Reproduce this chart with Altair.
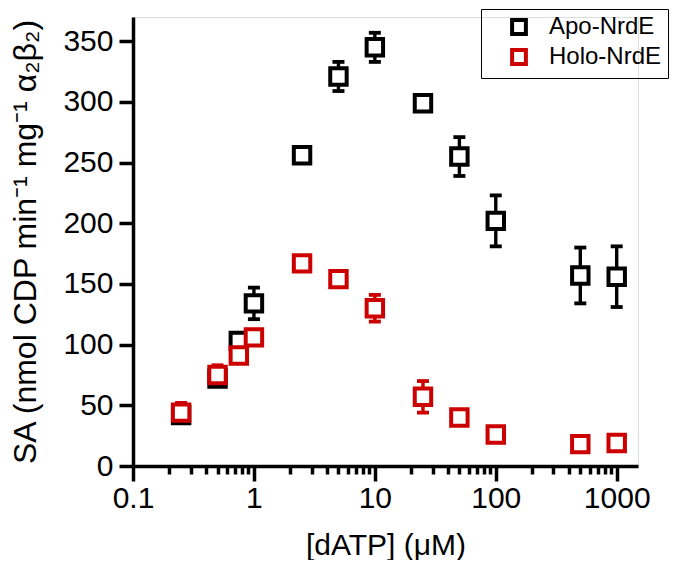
import altair as alt
import pandas as pd

# ---- data ----
conc = [0.25, 0.5, 0.75, 1, 2.5, 5, 10, 25, 50, 100, 500, 1000]
apo_sa = [42, 72, 103, 134, 256, 321, 345, 299, 255, 202, 157, 156]
apo_err = [3, 4, 2, 13, 3, 12, 12, 3, 16, 21, 23, 25]
holo_sa = [44, 75, 91, 106, 167, 154, 130, 57, 40, 26, 18, 19]
holo_err = [8, 8, 3, 3, 3, 3, 11, 13, 3, 2, 2, 2]

series = ["Apo-NrdE", "Holo-NrdE"]
colors = ["#000000", "#cc0000"]

x_major = [0.1, 1, 10, 100, 1000]
x_minor = [0.2, 0.3, 0.4, 0.5, 0.6, 0.7, 0.8, 0.9,
           2, 3, 4, 5, 6, 7, 8, 9,
           20, 30, 40, 50, 60, 70, 80, 90,
           200, 300, 400, 500, 600, 700, 800, 900]
y_ticks = [0, 50, 100, 150, 200, 250, 300, 350]

rows = []
for name, vals, errs in [(series[0], apo_sa, apo_err), (series[1], holo_sa, holo_err)]:
    for c, v, e in zip(conc, vals, errs):
        rows.append({"conc": c, "sa": v, "lo": v - e, "hi": v + e, "series": name})
df = pd.DataFrame(rows)

FONT = "Liberation Sans"
major_test = "indexof([0.1, 1, 10, 100, 1000], datum.value) >= 0"

x_scale = alt.Scale(type="log", domain=[0.1, 1500], nice=False)
y_scale = alt.Scale(domain=[0, 370], nice=False, zero=True)
series_scale = alt.Scale(domain=series, range=colors)

legend = alt.Legend(
    title=None, orient="none", legendX=348, legendY=-8,
    strokeColor="black", padding=6,
    labelFont=FONT, labelFontSize=24, labelColor="black",
    symbolType="square", symbolFillColor="white", symbolSize=190,
    symbolStrokeWidth=4, symbolOffset=20, labelOffset=18,
    rowPadding=0,
)
stroke_enc = alt.Stroke("series:N", scale=series_scale, legend=legend)

x_axis = alt.Axis(
    values=x_major + x_minor,
    format="~g",
    labelExpr=major_test + " ? datum.label : ''",
    tickSize={"condition": {"test": major_test, "value": 15}, "value": 8},
    tickWidth=3.5,
    domainWidth=3.5,
    domainColor="black",
    tickColor="black",
    labelFont=FONT,
    labelFontSize=30,
    labelColor="black",
    labelPadding=2,
    labelOverlap=False,
    labelFlush=False,
    grid=False,
    title="[dATP] (μM)",
    titleFont=FONT,
    titleFontSize=30,
    titleFontWeight="normal",
    titleColor="black",
    titlePadding=17,
)

y_axis = alt.Axis(
    values=y_ticks,
    tickSize=14,
    tickWidth=3.5,
    domainWidth=3.5,
    domainColor="black",
    tickColor="black",
    labelFont=FONT,
    labelFontSize=30,
    labelColor="black",
    labelPadding=6,
    labelFlush=False,
    grid=False,
    title="SA (nmol CDP min⁻¹ mg⁻¹ α₂β₂)",
    titleFont=FONT,
    titleFontSize=32,
    titleFontWeight="normal",
    titleColor="black",
    titlePadding=20,
)

base = alt.Chart(df)

bars = base.mark_rule(strokeWidth=3.4).encode(
    x=alt.X("conc:Q", scale=x_scale, axis=x_axis),
    y=alt.Y("lo:Q", scale=y_scale, axis=y_axis),
    y2="hi:Q",
    stroke=stroke_enc,
)

cap_lo = base.mark_rule(strokeWidth=3.8, xOffset=-6, x2Offset=6).encode(
    x=alt.X("conc:Q", scale=x_scale),
    x2="conc:Q",
    y=alt.Y("lo:Q", scale=y_scale),
    stroke=stroke_enc,
)
cap_hi = base.mark_rule(strokeWidth=3.8, xOffset=-6, x2Offset=6).encode(
    x=alt.X("conc:Q", scale=x_scale),
    x2="conc:Q",
    y=alt.Y("hi:Q", scale=y_scale),
    stroke=stroke_enc,
)

points = base.mark_point(
    shape="square", filled=False, fill="white", fillOpacity=1, opacity=1,
    size=270, strokeWidth=4
).encode(
    x=alt.X("conc:Q", scale=x_scale),
    y=alt.Y("sa:Q", scale=y_scale),
    stroke=stroke_enc,
)

chart = alt.layer(bars, cap_lo, cap_hi, points).properties(
    width=505, height=449,
    autosize=alt.AutoSizeParams(type="none"),
    padding={"left": 125, "top": 9, "right": 31, "bottom": 94},
).configure_view(stroke=None).configure(background="white")

chart.save("out.html", embed_options={"renderer": "svg", "actions": False})
